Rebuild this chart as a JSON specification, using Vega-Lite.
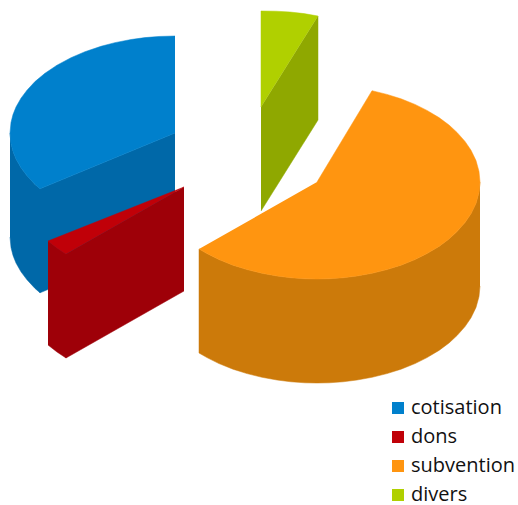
{
"$schema":"https://vega.github.io/schema/vega-lite/v6.json",
"width":518,"height":505,
"autosize":{"type":"fit","contains":"padding"},
"padding":0,
"background":"white",
"view":{"stroke":null},
"datasets":{
"sides":[
{"face":"a1","x":5,"y":186,"i":1},{"face":"a1","x":5.5,"y":180.7,"i":2},{"face":"a1","x":6.5,"y":176.8,"i":3},{"face":"a1","x":8,"y":173,"i":4},{"face":"a1","x":10.5,"y":168.6,"i":5},{"face":"a1","x":13.5,"y":164.6,"i":6},{"face":"a1","x":17.5,"y":160.3,"i":7},{"face":"a1","x":20,"y":158.1,"i":8},{"face":"a1","x":20,"y":106.1,"i":9},{"face":"a1","x":17.5,"y":108.3,"i":10},{"face":"a1","x":13.5,"y":112.6,"i":11},{"face":"a1","x":10.5,"y":116.6,"i":12},{"face":"a1","x":8,"y":121,"i":13},{"face":"a1","x":6.5,"y":124.8,"i":14},{"face":"a1","x":5.5,"y":128.7,"i":15},{"face":"a1","x":5,"y":134,"i":16},
{"face":"a2","x":87.5,"y":186,"i":1},{"face":"a2","x":20,"y":158.1,"i":2},{"face":"a2","x":20,"y":106.1,"i":3},{"face":"a2","x":87.5,"y":134,"i":4},
{"face":"b1","x":24,"y":132,"i":1},{"face":"b1","x":28.5,"y":128.5,"i":2},{"face":"b1","x":33,"y":125.5,"i":3},{"face":"b1","x":33,"y":73.5,"i":4},{"face":"b1","x":28.5,"y":76.5,"i":5},{"face":"b1","x":24,"y":80,"i":6},
{"face":"b2","x":92,"y":159,"i":1},{"face":"b2","x":33,"y":125.5,"i":2},{"face":"b2","x":33,"y":73.5,"i":3},{"face":"b2","x":92,"y":107,"i":4},
{"face":"c1","x":240,"y":161.5,"i":1},{"face":"c1","x":239.5,"y":156.2,"i":2},{"face":"c1","x":238,"y":150.8,"i":3},{"face":"c1","x":235.5,"y":145.6,"i":4},{"face":"c1","x":232.5,"y":141.2,"i":5},{"face":"c1","x":228.5,"y":136.7,"i":6},{"face":"c1","x":224.5,"y":133,"i":7},{"face":"c1","x":219.5,"y":129.3,"i":8},{"face":"c1","x":213.5,"y":125.7,"i":9},{"face":"c1","x":207.5,"y":122.7,"i":10},{"face":"c1","x":200.5,"y":119.9,"i":11},{"face":"c1","x":193.5,"y":117.7,"i":12},{"face":"c1","x":186,"y":115.85,"i":13},{"face":"c1","x":178.5,"y":114.5,"i":14},{"face":"c1","x":171.5,"y":113.6,"i":15},{"face":"c1","x":164.5,"y":113.1,"i":16},{"face":"c1","x":158.5,"y":113,"i":17},{"face":"c1","x":152.5,"y":113.1,"i":18},{"face":"c1","x":145.5,"y":113.6,"i":19},{"face":"c1","x":138.5,"y":114.5,"i":20},{"face":"c1","x":131,"y":115.85,"i":21},{"face":"c1","x":123.5,"y":117.7,"i":22},{"face":"c1","x":116.5,"y":119.9,"i":23},{"face":"c1","x":109.5,"y":122.7,"i":24},{"face":"c1","x":103.5,"y":125.7,"i":25},{"face":"c1","x":99.5,"y":128,"i":26},{"face":"c1","x":99.5,"y":76,"i":27},{"face":"c1","x":103.5,"y":73.7,"i":28},{"face":"c1","x":109.5,"y":70.7,"i":29},{"face":"c1","x":116.5,"y":67.9,"i":30},{"face":"c1","x":123.5,"y":65.7,"i":31},{"face":"c1","x":131,"y":63.85,"i":32},{"face":"c1","x":138.5,"y":62.5,"i":33},{"face":"c1","x":145.5,"y":61.6,"i":34},{"face":"c1","x":152.5,"y":61.1,"i":35},{"face":"c1","x":158.5,"y":61,"i":36},{"face":"c1","x":164.5,"y":61.1,"i":37},{"face":"c1","x":171.5,"y":61.6,"i":38},{"face":"c1","x":178.5,"y":62.5,"i":39},{"face":"c1","x":186,"y":63.85,"i":40},{"face":"c1","x":193.5,"y":65.7,"i":41},{"face":"c1","x":200.5,"y":67.9,"i":42},{"face":"c1","x":207.5,"y":70.7,"i":43},{"face":"c1","x":213.5,"y":73.7,"i":44},{"face":"c1","x":219.5,"y":77.3,"i":45},{"face":"c1","x":224.5,"y":81,"i":46},{"face":"c1","x":228.5,"y":84.7,"i":47},{"face":"c1","x":232.5,"y":89.2,"i":48},{"face":"c1","x":235.5,"y":93.6,"i":49},{"face":"c1","x":238,"y":98.8,"i":50},{"face":"c1","x":239.5,"y":104.2,"i":51},{"face":"c1","x":240,"y":109.5,"i":52},
{"face":"d1","x":130.5,"y":199,"i":1},{"face":"d1","x":159,"y":244.5,"i":2},{"face":"d1","x":159,"y":192.5,"i":3},{"face":"d1","x":130.5,"y":147,"i":4}
],
"tops":[
{"slice":"cotisation","x":87.5,"y":234.5,"i":1},{"slice":"cotisation","x":79.5,"y":234.27,"i":2},{"slice":"cotisation","x":72.5,"y":233.69,"i":3},{"slice":"cotisation","x":65.5,"y":232.74,"i":4},{"slice":"cotisation","x":57.5,"y":231.18,"i":5},{"slice":"cotisation","x":50.5,"y":229.35,"i":6},{"slice":"cotisation","x":42.5,"y":226.65,"i":7},{"slice":"cotisation","x":35.5,"y":223.65,"i":8},{"slice":"cotisation","x":28.5,"y":219.9,"i":9},{"slice":"cotisation","x":22.5,"y":215.87,"i":10},{"slice":"cotisation","x":17.5,"y":211.7,"i":11},{"slice":"cotisation","x":13.5,"y":207.4,"i":12},{"slice":"cotisation","x":10.5,"y":203.4,"i":13},{"slice":"cotisation","x":8,"y":199,"i":14},{"slice":"cotisation","x":6.5,"y":195.2,"i":15},{"slice":"cotisation","x":5.5,"y":191.3,"i":16},{"slice":"cotisation","x":5,"y":186,"i":17},{"slice":"cotisation","x":5.5,"y":180.7,"i":18},{"slice":"cotisation","x":6.5,"y":176.8,"i":19},{"slice":"cotisation","x":8,"y":173,"i":20},{"slice":"cotisation","x":10.5,"y":168.6,"i":21},{"slice":"cotisation","x":13.5,"y":164.6,"i":22},{"slice":"cotisation","x":17.5,"y":160.3,"i":23},{"slice":"cotisation","x":20,"y":158.1,"i":24},{"slice":"cotisation","x":87.5,"y":186,"i":25},
{"slice":"dons","x":92,"y":159,"i":1},{"slice":"dons","x":24,"y":132,"i":2},{"slice":"dons","x":28.5,"y":128.5,"i":3},{"slice":"dons","x":33,"y":125.5,"i":4},
{"slice":"subvention","x":158.5,"y":161.5,"i":1},{"slice":"subvention","x":186,"y":207.15,"i":2},{"slice":"subvention","x":193.5,"y":205.3,"i":3},{"slice":"subvention","x":200.5,"y":203.1,"i":4},{"slice":"subvention","x":207.5,"y":200.3,"i":5},{"slice":"subvention","x":213.5,"y":197.3,"i":6},{"slice":"subvention","x":219.5,"y":193.7,"i":7},{"slice":"subvention","x":224.5,"y":190,"i":8},{"slice":"subvention","x":228.5,"y":186.3,"i":9},{"slice":"subvention","x":232.5,"y":181.8,"i":10},{"slice":"subvention","x":235.5,"y":177.4,"i":11},{"slice":"subvention","x":238,"y":172.2,"i":12},{"slice":"subvention","x":239.5,"y":166.8,"i":13},{"slice":"subvention","x":240,"y":161.5,"i":14},{"slice":"subvention","x":239.5,"y":156.2,"i":15},{"slice":"subvention","x":238,"y":150.8,"i":16},{"slice":"subvention","x":235.5,"y":145.6,"i":17},{"slice":"subvention","x":232.5,"y":141.2,"i":18},{"slice":"subvention","x":228.5,"y":136.7,"i":19},{"slice":"subvention","x":224.5,"y":133,"i":20},{"slice":"subvention","x":219.5,"y":129.3,"i":21},{"slice":"subvention","x":213.5,"y":125.7,"i":22},{"slice":"subvention","x":207.5,"y":122.7,"i":23},{"slice":"subvention","x":200.5,"y":119.9,"i":24},{"slice":"subvention","x":193.5,"y":117.7,"i":25},{"slice":"subvention","x":186,"y":115.85,"i":26},{"slice":"subvention","x":178.5,"y":114.5,"i":27},{"slice":"subvention","x":171.5,"y":113.6,"i":28},{"slice":"subvention","x":164.5,"y":113.1,"i":29},{"slice":"subvention","x":158.5,"y":113,"i":30},{"slice":"subvention","x":152.5,"y":113.1,"i":31},{"slice":"subvention","x":145.5,"y":113.6,"i":32},{"slice":"subvention","x":138.5,"y":114.5,"i":33},{"slice":"subvention","x":131,"y":115.85,"i":34},{"slice":"subvention","x":123.5,"y":117.7,"i":35},{"slice":"subvention","x":116.5,"y":119.9,"i":36},{"slice":"subvention","x":109.5,"y":122.7,"i":37},{"slice":"subvention","x":103.5,"y":125.7,"i":38},{"slice":"subvention","x":99.5,"y":128,"i":39},
{"slice":"divers","x":130.5,"y":199,"i":1},{"slice":"divers","x":130.5,"y":247,"i":2},{"slice":"divers","x":138,"y":246.9,"i":3},{"slice":"divers","x":145,"y":246.5,"i":4},{"slice":"divers","x":152,"y":245.7,"i":5},{"slice":"divers","x":159,"y":244.5,"i":6}
]
},
"layer":[
{"data":{"name":"sides"},
 "mark":{"type":"line","filled":true,"interpolate":"linear","strokeWidth":0.5},
 "encoding":{
  "x":{"field":"x","type":"quantitative","scale":{"domain":[0,259],"nice":false,"zero":false},"axis":null},
  "y":{"field":"y","type":"quantitative","scale":{"domain":[0,252.5],"nice":false,"zero":false},"axis":null},
  "order":{"field":"i","type":"quantitative"},
  "detail":{"field":"face","type":"nominal"},
  "fill":{"field":"face","type":"nominal","legend":null,"scale":{"domain":["a1","a2","b1","b2","c1","d1"],"range":["#0068A8","#0068A8","#9E0008","#9E0008","#CC7A0A","#8FA800"]}},
  "stroke":{"field":"face","type":"nominal","legend":null,"scale":{"domain":["a1","a2","b1","b2","c1","d1"],"range":["#0068A8","#0068A8","#9E0008","#9E0008","#CC7A0A","#8FA800"]}}
 }},
{"data":{"name":"tops"},
 "mark":{"type":"line","filled":true,"interpolate":"linear","strokeWidth":0.5},
 "encoding":{
  "x":{"field":"x","type":"quantitative","axis":null},
  "y":{"field":"y","type":"quantitative","axis":null},
  "order":{"field":"i","type":"quantitative"},
  "detail":{"field":"slice","type":"nominal"},
  "fill":{"field":"slice","type":"nominal","sort":null,
   "scale":{"domain":["cotisation","dons","subvention","divers"],"range":["#0080CC","#C00008","#FF9510","#B0D000"]},
   "legend":{"title":null,"orient":"none","legendX":388,"legendY":398,"symbolType":"square","symbolSize":144,"symbolStrokeWidth":0,"labelFont":"Open Sans","labelFontSize":20,"labelColor":"#111111","labelOffset":3,"rowPadding":9,"labelLimit":140}},
  "stroke":{"field":"slice","type":"nominal","legend":null,"scale":{"domain":["cotisation","dons","subvention","divers"],"range":["#0080CC","#C00008","#FF9510","#B0D000"]}}
 }}
],
"resolve":{"scale":{"fill":"independent","stroke":"independent"}}
}
